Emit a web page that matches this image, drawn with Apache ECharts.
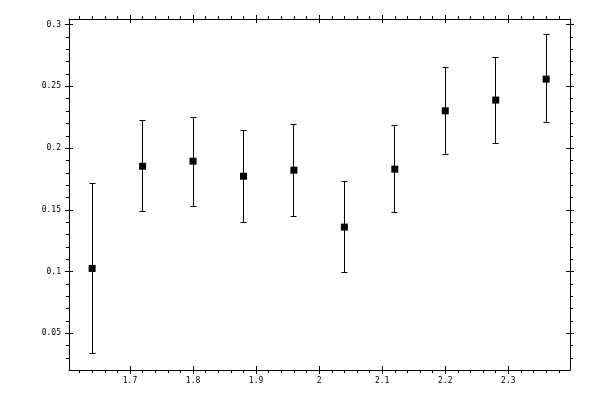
<!DOCTYPE html>
<html>
<head>
<meta charset="utf-8">
<script src="https://cdn.jsdelivr.net/npm/echarts@6/dist/echarts.min.js"></script>
<style>
  html, body { margin: 0; padding: 0; background: #fff; }
  #chart { width: 600px; height: 400px; }
</style>
</head>
<body>
<div id="chart"></div>
<script>
var xVals = [1.64, 1.72, 1.80, 1.88, 1.96, 2.04, 2.12, 2.20, 2.28, 2.36];
var yVals = [0.1025, 0.1853, 0.1894, 0.1772, 0.1821, 0.136, 0.1829, 0.2302, 0.2389, 0.2559];
var yLow = [0.0335, 0.149, 0.1528, 0.1399, 0.1447, 0.0993, 0.148, 0.195, 0.204, 0.221];
var yHigh = [0.1712, 0.2226, 0.2251, 0.2145, 0.2194, 0.1726, 0.2186, 0.2649, 0.2738, 0.2919];

// tick labels
var xTicks = [1.7, 1.8, 1.9, 2.0, 2.1, 2.2, 2.3];
var yTicks = [0.05, 0.1, 0.15, 0.2, 0.25, 0.3];

// axis extents as seen in the plot frame
var xRange = [1.6033, 2.3978];
var yRange = [0.0202, 0.3046];

// minor ticks: every 0.02 on x, every 0.01 on y
var xMinor = [];
for (var k = 81; k <= 119; k++) xMinor.push(k / 50);
var yMinor = [];
for (var j = 3; j <= 30; j++) yMinor.push(j / 100);

var chart = echarts.init(document.getElementById('chart'), null, { renderer: 'canvas' });

var black = '#000';
var fontFamily = 'DejaVu Sans Mono';

// kind: 'main' (line + outward major ticks), 'in' (inward major ticks), 'minor'
function makeAxis(pos, kind, range, major, minor, labelled, margin) {
  var ax = {
    type: 'value',
    position: pos,
    min: range[0],
    max: range[1],
    splitLine: { show: false },
    axisLine: { show: kind === 'main', onZero: false, lineStyle: { color: black, width: 1 } },
    axisLabel: { show: false },
    axisTick: { show: true, lineStyle: { color: black, width: 1 } }
  };
  if (kind === 'minor') {
    ax.axisTick.customValues = minor;
    ax.axisTick.length = 3;
  } else {
    ax.axisTick.customValues = major;
    ax.axisTick.length = 4;
    ax.axisTick.inside = kind === 'in';
  }
  if (kind === 'main' && labelled) {
    ax.axisLabel = {
      show: true,
      customValues: major,
      margin: margin,
      fontFamily: fontFamily, fontSize: 8, color: black
    };
  }
  return ax;
}

function xAx(pos, kind) {
  return makeAxis(pos, kind, xRange, xTicks, xMinor, pos === 'bottom', 7);
}
function yAx(pos, kind) {
  return makeAxis(pos, kind, yRange, yTicks, yMinor, pos === 'left', 8);
}

var points = xVals.map(function (x, i) { return [x, yVals[i]]; });
var bars = xVals.map(function (x, i) { return [x, yLow[i], yHigh[i]]; });

// snap to pixel centre so 1px lines stay crisp
function px(v) { return Math.round(v - 0.5) + 0.5; }

var option = {
  animation: false,
  backgroundColor: '#fff',
  grid: { left: 69, right: 30, top: 19, bottom: 30 },
  xAxis: [
    xAx('bottom', 'main'), xAx('bottom', 'in'), xAx('bottom', 'minor'),
    xAx('top', 'main'), xAx('top', 'in'), xAx('top', 'minor')
  ],
  yAxis: [
    yAx('left', 'main'), yAx('left', 'in'), yAx('left', 'minor'),
    yAx('right', 'main'), yAx('right', 'in'), yAx('right', 'minor')
  ],
  series: [{
    type: 'custom',
    name: 'error',
    data: bars,
    renderItem: function (params, api) {
      var lo = api.coord([api.value(0), api.value(1)]);
      var hi = api.coord([api.value(0), api.value(2)]);
      var x = px(lo[0]), y1 = px(lo[1]), y2 = px(hi[1]);
      var cap = 3;
      var style = { stroke: black, lineWidth: 1 };
      return {
        type: 'group',
        children: [
          { type: 'line', shape: { x1: x, y1: y1, x2: x, y2: y2 }, style: style },
          { type: 'line', shape: { x1: x - cap, y1: y1, x2: x + cap, y2: y1 }, style: style },
          { type: 'line', shape: { x1: x - cap, y1: y2, x2: x + cap, y2: y2 }, style: style }
        ]
      };
    },
    z: 1
  }, {
    type: 'scatter',
    name: 'value',
    data: points,
    symbol: 'rect',
    symbolSize: 7,
    itemStyle: { color: black, opacity: 1 },
    z: 2
  }]
};

chart.setOption(option);
</script>
</body>
</html>
